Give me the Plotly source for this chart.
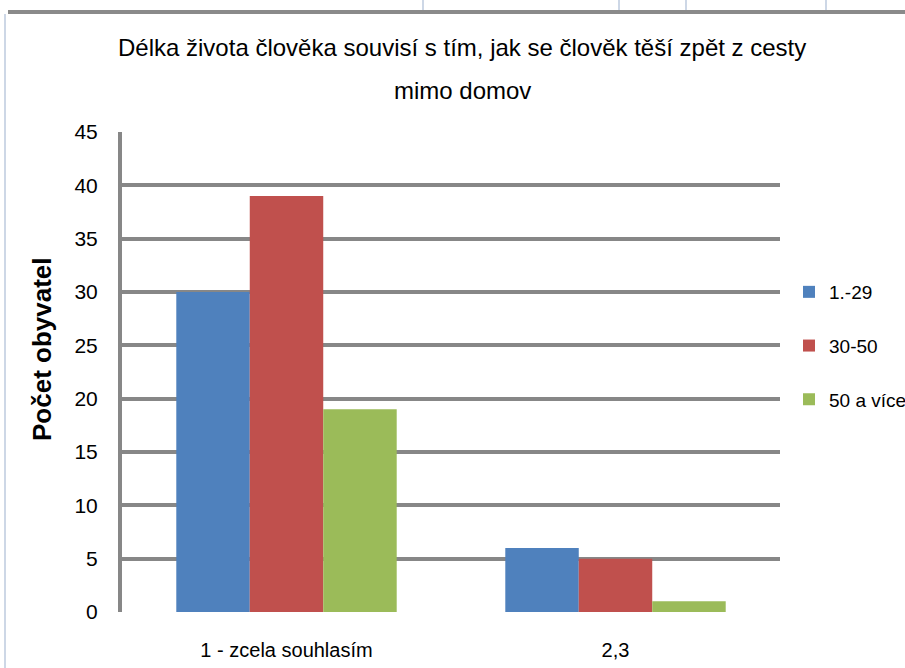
import plotly.graph_objects as go

categories = ["1 - zcela souhlasím", "2,3"]
series_names = ["1.-29", "30-50", "50 a více"]
series_values = [
    [30, 6],
    [39, 5],
    [19, 1],
]
series_colors = ["#4f81bd", "#c0504d", "#9bbb59"]
y_ticks = [0, 5, 10, 15, 20, 25, 30, 35, 40, 45]

W, H = 905, 668
L, R, T, B = 122, 125, 132, 56
FONT = "Liberation Sans Narrow, Arial Narrow, Liberation Sans, Arial, sans-serif"
GRID = "#878787"


def px(x):
    # pixel -> paper x
    return (x - L) / (W - L - R)


def py(y):
    # pixel -> paper y
    return (H - B - y) / (H - T - B)


fig = go.Figure()
for i, name in enumerate(series_names):
    fig.add_trace(
        go.Bar(
            x=categories,
            y=series_values[i],
            name=name,
            marker={"color": series_colors[i], "line": {"width": 0}},
            legendgroup=name,
        )
    )

# spreadsheet cell borders peeking out behind the chart
shapes = [
    dict(type="line", xref="paper", yref="paper", x0=px(8), x1=px(W), y0=py(12), y1=py(12),
         line={"color": "#8a8a8a", "width": 4}),
    dict(type="line", xref="paper", yref="paper", x0=px(5), x1=px(5), y0=py(14), y1=py(H),
         line={"color": "#cdd7e6", "width": 2}),
]
for xv in [423, 619, 686, 826]:
    shapes.append(dict(type="line", xref="paper", yref="paper", x0=px(xv), x1=px(xv),
                       y0=py(0), y1=py(10), line={"color": "#cdd7e6", "width": 2}))

fig.update_layout(
    width=W,
    height=H,
    margin={"l": L, "r": R, "t": T, "b": B, "autoexpand": False},
    paper_bgcolor="white",
    plot_bgcolor="white",
    barmode="group",
    bargap=0.33,
    bargroupgap=0,
    font={"family": FONT, "size": 21, "color": "#000000"},
    shapes=shapes,
    annotations=[
        dict(text="Délka života člověka souvisí s tím, jak se člověk těší zpět z cesty",
             xref="paper", yref="paper", x=px(462), y=py(47), showarrow=False,
             font={"size": 24}, xanchor="center", yanchor="middle"),
        dict(text="mimo domov", xref="paper", yref="paper", x=px(462), y=py(90),
             showarrow=False, font={"size": 24}, xanchor="center", yanchor="middle"),
        dict(text="<b>Počet obyvatel</b>", xref="paper", yref="paper", x=px(42), y=py(349),
             showarrow=False, textangle=-90, font={"size": 26},
             xanchor="center", yanchor="middle"),
    ],
    legend={
        "xref": "container",
        "yref": "container",
        "x": 789 / W,
        "y": 1 - 273 / H,
        "xanchor": "left",
        "yanchor": "top",
        "font": {"size": 19},
        "traceorder": "grouped",
        "tracegroupgap": 26,
        "bgcolor": "rgba(0,0,0,0)",
    },
    showlegend=True,
)
fig.update_yaxes(
    range=[0, 45],
    tickvals=y_ticks,
    showgrid=True,
    gridcolor=GRID,
    gridwidth=4,
    zeroline=False,
    showline=True,
    linecolor=GRID,
    linewidth=4,
    ticks="",
    ticklabelstandoff=16,
    automargin=False,
)
fig.update_xaxes(
    showline=False,
    showgrid=False,
    ticks="",
    tickfont={"size": 20},
    ticklabelstandoff=24,
    automargin=False,
)

fig.write_html(
    "out.html",
    config={"displayModeBar": False},
    post_script="document.body.style.margin='0';",
)
